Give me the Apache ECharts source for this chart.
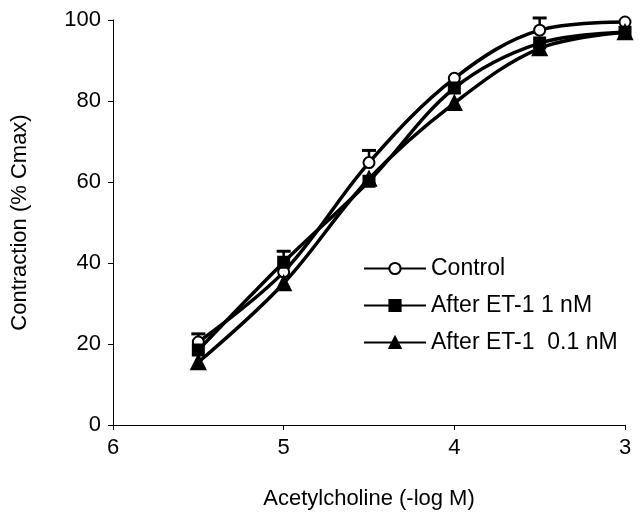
<!DOCTYPE html>
<html><head><meta charset="utf-8">
<script src="https://cdn.jsdelivr.net/npm/echarts@6/dist/echarts.min.js"></script>
<style>html,body{margin:0;padding:0;background:#fff}#c{width:640px;height:524px}</style>
</head><body><div id="c"></div>
<script>
var doses = [5.5, 5, 4.5, 4, 3.5, 3];
var control = [20.5, 37.8, 64.8, 85.6, 97.5, 99.5];
var controlErr = [2, 0, 3, 0, 3, 0];
var et1nM = [18.5, 40.2, 60.2, 83.2, 94.3, 97];
var et1nMErr = [0, 2.7, 0, 0, 0, 0];
var et01nM = [15.5, 35, 60.8, 79.5, 93, 97];
var seriesNames = ['Control', 'After ET-1 1 nM', 'After ET-1  0.1 nM'];
var xTicks = [6, 5, 4, 3];

function pairs(v){ return doses.map(function(d,i){ return [d, v[i]]; }); }
function errData(v, e){ var out=[]; doses.forEach(function(d,i){ if(e[i]>0) out.push([d, v[i], e[i]]); }); return out; }

var font = 'Liberation Sans, Arial, sans-serif';
function errSeries(v, e){
  return {
    type: 'custom', silent: true, z: 1,
    data: errData(v, e),
    renderItem: function(params, api){
      var x = api.value(0), y = api.value(1), er = api.value(2);
      var p0 = api.coord([x, y]); var p1 = api.coord([x, y + er]);
      return { type: 'group', children: [
        { type: 'line', shape: {x1:p0[0], y1:p0[1], x2:p1[0], y2:p1[1]}, style: {stroke:'#000', lineWidth:2.5} },
        { type: 'line', shape: {x1:p1[0]-7, y1:p1[1], x2:p1[0]+7, y2:p1[1]}, style: {stroke:'#000', lineWidth:3} }
      ]};
    }
  };
}
function lineSeries(name, v, symbol, size, fill){
  return {
    name: name, type: 'line', data: pairs(v), smooth: 0.35, z: 3,
    symbol: symbol, symbolSize: size,
    lineStyle: {color:'#000', width: 3.5},
    itemStyle: {color: fill, borderColor:'#000', borderWidth: 2},
    emphasis: {disabled: true}
  };
}

var chart = echarts.init(document.getElementById('c'));
chart.setOption({
  animation: false,
  backgroundColor: '#fff',
  textStyle: {fontFamily: font, color: '#000'},
  grid: {left: 113, right: 15, top: 20, bottom: 99, containLabel: false},
  legend: {
    orient: 'vertical', left: 358, top: 252, itemWidth: 62, itemHeight: 14, itemGap: 14,
    textStyle: {fontFamily: font, fontSize: 23, color: '#000'},
    data: seriesNames
  },
  xAxis: {
    type: 'value', inverse: true, min: 3, max: 6, interval: 1,
    name: 'Acetylcholine (-log M)', nameLocation: 'middle', nameGap: 63,
    nameTextStyle: {fontFamily: font, fontSize: 22, color: '#000'},
    axisLine: {lineStyle: {color:'#000', width: 1}},
    axisTick: {show: true, length: 5, lineStyle:{color:'#000'}},
    axisLabel: {fontFamily: font, fontSize: 22, color:'#000', margin: 12,
      formatter: function(v){ return xTicks.indexOf(v) >= 0 ? String(v) : ''; }},
    splitLine: {show: false}
  },
  yAxis: {
    type: 'value', min: 0, max: 100, interval: 20,
    name: 'Contraction (% Cmax)', nameLocation: 'middle', nameGap: 82, nameRotate: 90,
    nameTextStyle: {fontFamily: font, fontSize: 22, color: '#000'},
    axisLine: {show: true, lineStyle: {color:'#000', width: 1}},
    axisTick: {show: true, length: 5, lineStyle:{color:'#000'}},
    axisLabel: {fontFamily: font, fontSize: 22, color:'#000', margin: 12},
    splitLine: {show: false}
  },
  series: [
    errSeries(control, controlErr),
    errSeries(et1nM, et1nMErr),
    lineSeries(seriesNames[0], control, 'circle', 11, '#fff'),
    lineSeries(seriesNames[1], et1nM, 'rect', 11, '#000'),
    lineSeries(seriesNames[2], et01nM, 'triangle', 14, '#000')
  ]
});
</script></body></html>
